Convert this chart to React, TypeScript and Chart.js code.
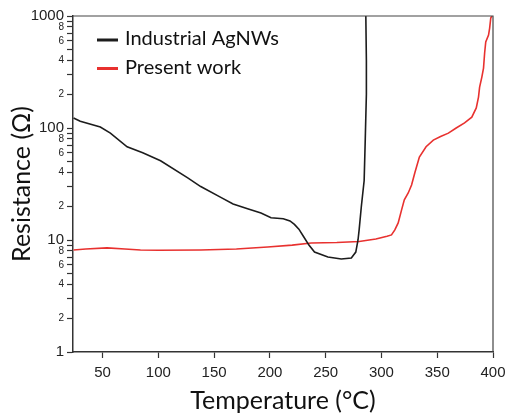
import React, { useEffect, useRef } from "react";
import { Chart, registerables } from "chart.js";

Chart.register(...registerables);

// ---- data ----
const seriesLabels = ["Industrial AgNWs", "Present work"];
const seriesColors = ["#1c1c1c", "#e8312f"];

const xTicks = [50, 100, 150, 200, 250, 300, 350, 400];
const yTicks = [
  1, 2, 3, 4, 5, 6, 7, 8, 9,
  10, 20, 30, 40, 50, 60, 70, 80, 90,
  100, 200, 300, 400, 500, 600, 700, 800, 900,
  1000,
];
const yMajor = [1, 10, 100, 1000];
const yMinorLabelled = [2, 4, 6, 8];

const agnwT = [24, 30, 48, 57, 72, 86, 102, 126, 138, 156, 167, 180, 192, 201, 212, 218, 222, 226, 230, 235, 240, 252, 264, 273, 277, 279, 280, 282, 284.5, 285.5, 286.5, 286.5, 286];
const agnwR = [123, 115, 102, 90, 68, 60, 51, 36, 30, 24, 21, 19, 17.4, 15.8, 15.5, 14.8, 13.8, 12.5, 10.8, 9.0, 7.8, 7.05, 6.77, 6.9, 7.8, 10, 12.3, 20, 34, 80, 200, 400, 1000];

const presentT = [24, 35, 54, 70, 84, 100, 138, 170, 198, 220, 237, 260, 280, 295, 305, 309, 312, 315, 318, 320.5, 324, 327, 330, 334, 340, 346.5, 353, 360, 367, 374.5, 381, 385, 387, 388, 390, 391.5, 392.5, 393.5, 396, 397, 398, 399];
const presentR = [8.15, 8.3, 8.5, 8.3, 8.15, 8.1, 8.15, 8.3, 8.65, 9.0, 9.4, 9.5, 9.7, 10.2, 10.8, 11.1, 12.3, 14.2, 18.5, 22.8, 26.3, 31, 40, 55, 68, 78, 84, 90, 100, 111, 125, 151, 189, 232, 285, 343, 467, 586, 676, 781, 960, 1000];

const toPoints = (xs: number[], ys: number[]) => xs.map((x, i) => ({ x, y: ys[i] }));

const framePlugin = {
  id: "frameAndLegend",
  afterDraw(chart: any) {
    const { ctx, chartArea } = chart;
    const { left, top, right, bottom } = chartArea;
    ctx.save();
    ctx.strokeStyle = "#444";
    ctx.lineWidth = 1.2;
    ctx.beginPath();
    ctx.moveTo(left, top);
    ctx.lineTo(right, top);
    ctx.lineTo(right, bottom);
    ctx.stroke();

    chart.data.datasets.forEach((ds: any, i: number) => {
      const y = top + 24 + i * 28.5;
      ctx.strokeStyle = ds.borderColor;
      ctx.lineWidth = 3;
      ctx.beginPath();
      ctx.moveTo(left + 24, y);
      ctx.lineTo(left + 45, y);
      ctx.stroke();
      ctx.fillStyle = "#111";
      ctx.font = "20px Lato";
      ctx.textBaseline = "alphabetic";
      ctx.textAlign = "left";
      ctx.fillText(ds.label, left + 52, y + 5);
    });
    ctx.restore();
  },
};

export default function App() {
  const canvasRef = useRef<HTMLCanvasElement | null>(null);

  useEffect(() => {
    if (!canvasRef.current) return;
    const chart = new Chart(canvasRef.current, {
      type: "line",
      data: {
        datasets: [
          {
            label: seriesLabels[0],
            data: toPoints(agnwT, agnwR),
            borderColor: seriesColors[0],
            backgroundColor: seriesColors[0],
            borderWidth: 1.6,
            pointRadius: 0,
            tension: 0,
          },
          {
            label: seriesLabels[1],
            data: toPoints(presentT, presentR),
            borderColor: seriesColors[1],
            backgroundColor: seriesColors[1],
            borderWidth: 1.6,
            pointRadius: 0,
            tension: 0,
          },
        ],
      },
      options: {
        animation: false,
        responsive: false,
        parsing: false as any,
        layout: { autoPadding: false, padding: { top: 16, right: 15, left: 0, bottom: 0 } },
        plugins: { legend: { display: false }, tooltip: { enabled: false } },
        scales: {
          x: {
            type: "linear",
            min: 23.5,
            max: 400,
            afterBuildTicks: (s: any) => {
              s.ticks = xTicks.map((v) => ({ value: v }));
            },
            afterFit: (s: any) => {
              s.height = 63;
              s.paddingLeft = 0;
              s.paddingRight = 0;
            },
            grid: { drawOnChartArea: false, drawTicks: true, tickLength: 6, tickColor: "#333", tickWidth: 1.2 },
            border: { color: "#333", width: 1.5 },
            ticks: {
              color: "#222",
              font: { family: "Liberation Sans", size: 15 },
              padding: 6,
              maxRotation: 0,
              autoSkip: false,
            },
            title: {
              display: true,
              text: "Temperature (°C)",
              color: "#111",
              font: { family: "Lato", size: 25, lineHeight: 1 },
              padding: { top: 0, bottom: 2 },
            },
          },
          y: {
            type: "logarithmic",
            min: 1,
            max: 1000,
            afterBuildTicks: (s: any) => {
              s.ticks = yTicks.map((v) => ({ value: v }));
            },
            afterFit: (s: any) => {
              s.width = 73;
              s.paddingTop = 0;
              s.paddingBottom = 0;
            },
            grid: { drawOnChartArea: false, drawTicks: true, tickLength: 6, tickColor: "#333", tickWidth: 1.2 },
            border: { color: "#333", width: 1.5 },
            ticks: {
              color: "#222",
              autoSkip: false,
              padding: 3,
              font: (ctx: any) => {
                const v = ctx.tick ? ctx.tick.value : 1;
                return yMajor.includes(v)
                  ? { family: "Liberation Sans", size: 15 }
                  : { family: "Liberation Sans", size: 10 };
              },
              callback: (value: any) => {
                const v = Number(value);
                if (yMajor.includes(v)) return String(v);
                const d = Math.round(v / Math.pow(10, Math.floor(Math.log10(v) + 1e-9)));
                return yMinorLabelled.includes(d) ? String(d) : "";
              },
            },
            title: {
              display: true,
              text: "Resistance (Ω)",
              color: "#111",
              font: { family: "Lato", size: 25, lineHeight: 1 },
              padding: { top: 9, bottom: 0 },
            },
          },
        },
      },
      plugins: [framePlugin],
    });
    return () => chart.destroy();
  }, []);

  return (
    <div style={{ position: "fixed", left: 0, top: 0, width: 508, height: 415, background: "#fff" }}>
      <canvas ref={canvasRef} width={508} height={415} style={{ display: "block" }} />
    </div>
  );
}
